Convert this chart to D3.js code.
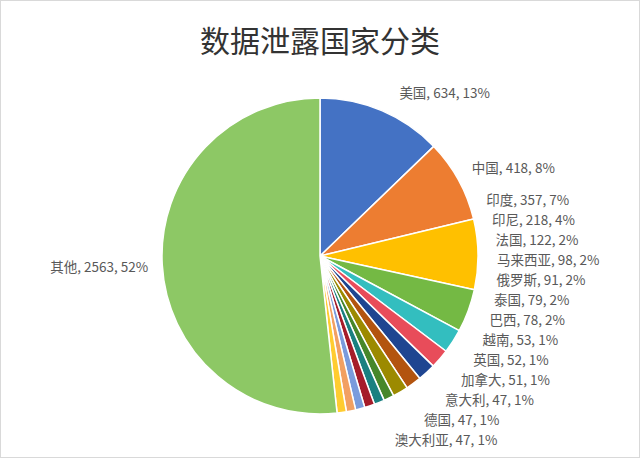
<!DOCTYPE html>
<html>
<head>
<meta charset="utf-8">
<script src="https://cdn.jsdelivr.net/npm/d3@7/dist/d3.min.js"></script>
<style>
  body { margin: 0; background: #fff; }
  text { font-family: "Noto Sans CJK SC", "Liberation Sans", sans-serif; }
</style>
</head>
<body>
<svg id="chart" width="640" height="460"></svg>
<script>
// data
var countries = ["美国", "中国", "印度", "印尼", "法国", "马来西亚", "俄罗斯", "泰国",
  "巴西", "越南", "英国", "加拿大", "意大利", "德国", "澳大利亚", "其他"];
var counts = [634, 418, 357, 218, 122, 98, 91, 79, 78, 53, 52, 51, 47, 47, 47, 2563];
var sliceColors = ["#4472C4", "#ED7D31", "#FFC000", "#74B944", "#33BEBF", "#E84C5A",
  "#1F4591", "#B3540F", "#9C8A00", "#47872A", "#1A8080", "#A51C2A", "#7A9BDC",
  "#F2A062", "#FFCC30", "#8DC865"];
var title = "数据泄露国家分类";

var width = 640, height = 460,
  cx = 320, cy = 256, radius = 158;

var svg = d3.select("#chart");

// chart area border
svg.append("rect")
  .attr("x", 0.5).attr("y", 0.5)
  .attr("width", width - 1).attr("height", height - 3)
  .attr("fill", "#fff")
  .attr("stroke", "#d9d9d9");

svg.append("text")
  .attr("x", cx)
  .attr("y", 39)
  .attr("text-anchor", "middle")
  .attr("dominant-baseline", "central")
  .attr("font-size", 30)
  .attr("fill", "#333")
  .text(title);

var data = countries.map(function (c, i) {
  return { name: c, value: counts[i], color: sliceColors[i] };
});
var total = d3.sum(counts);

var pie = d3.pie().sort(null).value(function (d) { return d.value; });
var arcs = pie(data);
var arc = d3.arc().innerRadius(0).outerRadius(radius);

var g = svg.append("g").attr("transform", "translate(" + cx + "," + cy + ")");

g.selectAll("path")
  .data(arcs)
  .enter()
  .append("path")
  .attr("d", arc)
  .attr("fill", function (d) { return d.data.color; })
  .attr("stroke", "#fff")
  .attr("stroke-width", 1.5)
  .attr("stroke-linejoin", "round");

// labels: ideal spot along mid angle, then stacked upward from the bottom
var labelR = 185, gap = 20;
var labels = arcs.map(function (d) {
  var mid = (d.startAngle + d.endAngle) / 2;
  return {
    d: d,
    mid: mid,
    right: Math.sin(mid) >= 0,
    y: cy - labelR * Math.cos(mid),
    text: d.data.name + ", " + d.data.value + ", " + Math.round(d.data.value / total * 100) + "%"
  };
});

var rightSide = labels.filter(function (l) { return l.right; });
for (var i = rightSide.length - 2; i >= 0; i--) {
  rightSide[i].y = Math.min(rightSide[i].y, rightSide[i + 1].y - gap);
}
// top label sits a bit closer in
rightSide[0].y = cy - 178 * Math.cos(rightSide[0].mid);
// left edge of right labels hugs a circle slightly off the pie centre
var ox = cx - 23.5, oy = cy + 8.4, orad = 200.6;
rightSide.forEach(function (l) {
  var dy = l.y - oy;
  l.x = ox + Math.sqrt(Math.max(orad * orad - dy * dy, 0));
  l.anchor = "start";
});
labels.filter(function (l) { return !l.right; }).forEach(function (l) {
  l.x = cx + 172 * Math.sin(l.mid);
  l.y = cy - 180 * Math.cos(l.mid);
  l.anchor = "end";
});

svg.append("g")
  .selectAll("text")
  .data(labels)
  .enter()
  .append("text")
  .attr("x", function (l) { return l.x; })
  .attr("y", function (l) { return l.y; })
  .attr("text-anchor", function (l) { return l.anchor; })
  .attr("dominant-baseline", "central")
  .attr("font-size", 13.5)
  .attr("fill", "#595959")
  .text(function (l) { return l.text; });
</script>
</body>
</html>
